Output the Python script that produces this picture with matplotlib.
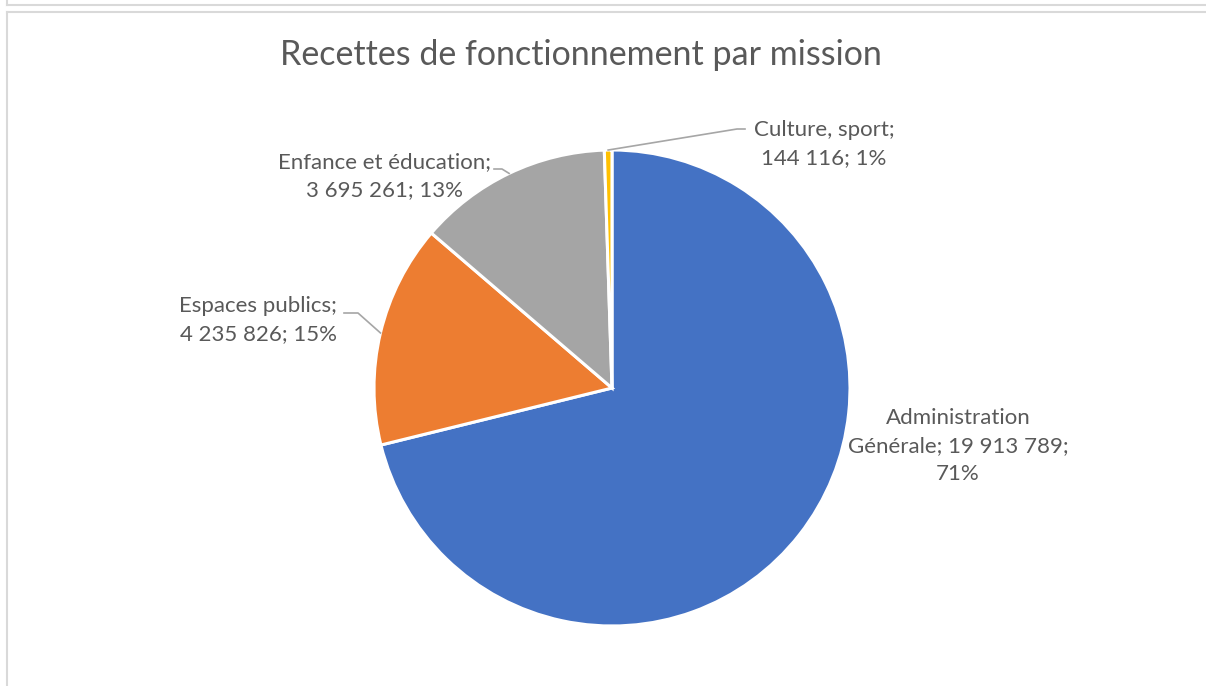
import numpy as np
import matplotlib
matplotlib.use("Agg")
import matplotlib.pyplot as plt
from matplotlib.lines import Line2D

plt.rcParams['font.family'] = ['Lato', 'DejaVu Sans']

categories = ["Administration\nGénérale", "Espaces publics", "Enfance et éducation", "Culture, sport"]
values = [19913789, 4235826, 3695261, 144116]
pct_labels = ["71%", "15%", "13%", "1%"]
value_labels = ["19 913 789", "4 235 826", "3 695 261", "144 116"]
colors = ["#4472C4", "#ED7D31", "#A5A5A5", "#FFC000"]
title = "Recettes de fonctionnement par mission"

W, H = 1206, 686
fig = plt.figure(figsize=(W / 100, H / 100), dpi=100)
fig.patch.set_facecolor("white")
ax = fig.add_axes([0, 0, 1, 1])
ax.set_xlim(0, W)
ax.set_ylim(0, H)
ax.set_aspect("equal")
ax.axis("off")

cx, cy, r = 612, H - 388, 238
wedges, _ = ax.pie(values, colors=colors, startangle=90, counterclock=False,
                   center=(cx, cy), radius=r, frame=True,
                   wedgeprops=dict(edgecolor="white", linewidth=2.2))
ax.set_xlim(0, W)
ax.set_ylim(0, H)
ax.axis("off")

txtc = "#595959"
linec = "#A6A6A6"
fs = 16
ls = 1.5

def mid_point(w):
    a = np.deg2rad((w.theta1 + w.theta2) / 2)
    return cx + r * np.cos(a), cy + r * np.sin(a)

# Administration label (no leader)
ax.text(958, H - 446, f"Administration\nGénérale; {value_labels[0]};\n{pct_labels[0]}",
        ha="center", va="center", fontsize=fs, color=txtc, linespacing=ls)

# Espaces publics
ax.text(258, H - 320, f"{categories[1]};\n{value_labels[1]}; {pct_labels[1]}",
        ha="center", va="center", fontsize=fs, color=txtc, linespacing=ls)
px, py = mid_point(wedges[1])
ax.add_line(Line2D([344, 358, px], [H - 313, H - 313, py], color=linec, lw=1.2))

# Enfance et éducation
ax.text(384, H - 176, f"{categories[2]};\n{value_labels[2]}; {pct_labels[2]}",
        ha="center", va="center", fontsize=fs, color=txtc, linespacing=ls)
px, py = mid_point(wedges[2])
ax.add_line(Line2D([494, 502, px], [H - 169, H - 169, py], color=linec, lw=1.2))

# Culture, sport
ax.text(824, H - 144, f"{categories[3]};\n{value_labels[3]}; {pct_labels[3]}",
        ha="center", va="center", fontsize=fs, color=txtc, linespacing=ls)
px, py = mid_point(wedges[3])
ax.add_line(Line2D([px, 737, 745], [py, H - 129, H - 129], color=linec, lw=1.2))

# Title
ax.text(581, H - 55, title, ha="center", va="center", fontsize=24.5, color=txtc)

# Frame lines
frame = "#D9D9D9"
ax.add_line(Line2D([7, W], [H - 5, H - 5], color=frame, lw=1.5))
ax.add_line(Line2D([7, 7], [H, H - 5], color=frame, lw=1.5))
ax.add_line(Line2D([7, W], [H - 11.5, H - 11.5], color=frame, lw=1.5))
ax.add_line(Line2D([7, 7], [0, H - 11.5], color=frame, lw=1.5))

fig.savefig("out.png", dpi=100, facecolor="white")
